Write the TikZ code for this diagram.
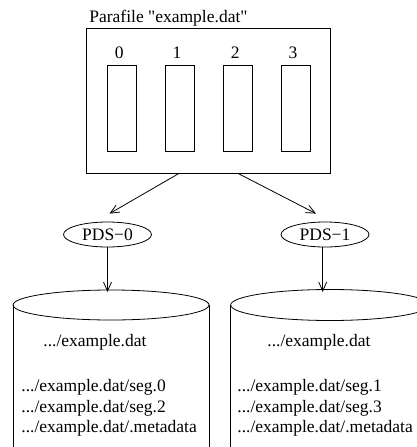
\documentclass[tikz,border=0pt]{standalone}
\usepackage{fontspec}
\setmainfont{Liberation Serif}[Ligatures=TeXOff]
\usetikzlibrary{arrows.meta,shapes.geometric,calc}
\tikzset{
  every picture/.style={line width=0.8pt},
  lbl/.style={inner sep=0pt, anchor=base west, font=\fontsize{17.5}{20.5}\selectfont},
  seg/.style={draw, minimum width=29pt, minimum height=86pt, inner sep=0pt},
  pds/.style={draw, ellipse, minimum width=88pt, minimum height=25pt, inner sep=0pt,
              font=\fontsize{17.5}{20.5}\selectfont},
  link/.style={-{Straight Barb[length=9pt,width=8pt]}},
}
\begin{document}
\begin{tikzpicture}[x=1pt,y=-1pt]
  \useasboundingbox (0,0) rectangle (416,447);

  % parafile container and its four segments
  \node[lbl] (title) at (89,22) {Parafile "example.dat"};
  \node[draw, minimum width=244pt, minimum height=145pt, inner sep=0pt] (box) at (208,100.5) {};
  \foreach \i/\x in {0/121.7,1/179.6,2/237.8,3/295.5}{
    \node[seg] (s\i) at (\x,108) {};
    \node[lbl, anchor=base] (n\i) at (\x-2.5,58) {\i};
  }

  % servers
  \node[pds] (pds0) at (107.5,234.5) {PDS−0};
  \node[pds] (pds1) at (325,234.5) {PDS−1};

  \coordinate (out0) at ($(box.south)+(-29,0)$);
  \coordinate (out1) at ($(box.south)+(30,0)$);
  \draw[link] (out0) -- ([xshift=2pt,yshift=8pt]pds0.north);
  \draw[link] (out1) -- ([xshift=-9pt,yshift=8pt]pds1.north);

  % disks (open cylinders)
  \draw (111,305) ellipse [x radius=98, y radius=15];
  \draw (13,305) -- (13,450) (209,305) -- (209,450);
  \coordinate (cyl0) at (107.5,292);
  \draw (330,305) ellipse [x radius=99.3, y radius=15.5];
  \draw (230.7,305) -- (230.7,450);
  \coordinate (cyl1) at (322.7,292);

  \draw[link] (pds0.south) -- (pds0.south |- cyl0);
  \draw[link] (pds1.south -| cyl1) -- (cyl1);

  % files stored on each disk
  \node[lbl] (d0) at (43,346.7) {.../example.dat};
  \node[lbl] (f0a) at (21,391.7) {.../example.dat/seg.0};
  \node[lbl] (f0b) at (21,412.2) {.../example.dat/seg.2};
  \node[lbl] (f0c) at (21,432.7) {.../example.dat/.metadata};
  \node[lbl] (d1) at (267,346.7) {.../example.dat};
  \node[lbl] (f1a) at (237,391.7) {.../example.dat/seg.1};
  \node[lbl] (f1b) at (237,412.2) {.../example.dat/seg.3};
  \node[lbl] (f1c) at (237,432.7) {.../example.dat/.metadata};
\end{tikzpicture}
\end{document}
